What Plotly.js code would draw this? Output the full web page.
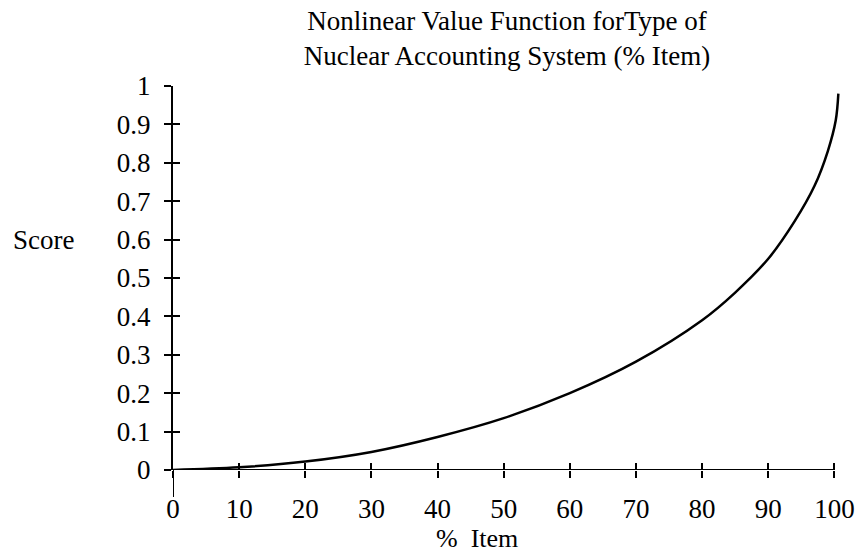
<!DOCTYPE html>
<html>
<head>
<meta charset="utf-8">
<script src="https://cdn.plot.ly/plotly-3.0.1.min.js"></script>
<style>html,body{margin:0;padding:0;background:#fff;}#chart{width:859px;height:554px;}</style>
</head>
<body>
<div id="chart"></div>
<script>
// Data
var itemPct = [0, 10, 20, 30, 40, 50, 60, 70, 80, 85, 90, 94, 97, 99, 100.2, 100.6];
var score   = [0, 0.007, 0.022, 0.047, 0.086, 0.135, 0.2, 0.282, 0.39, 0.462, 0.55, 0.648, 0.74, 0.83, 0.91, 0.98];
var xTicks = [0, 10, 20, 30, 40, 50, 60, 70, 80, 90, 100];
var yTicks = [0, 0.1, 0.2, 0.3, 0.4, 0.5, 0.6, 0.7, 0.8, 0.9, 1];
var yTickText = ['0', '0.1', '0.2', '0.3', '0.4', '0.5', '0.6', '0.7', '0.8', '0.9', '1'];
var titleText = 'Nonlinear Value Function forType of<br>Nuclear Accounting System (% Item)';
var xLabel = '%\u00A0\u00A0Item';
var yLabel = 'Score';

var FONT = 'Liberation Serif, Times New Roman, serif';
var X_MAX = 101;   // a little room so the curve's tip past 100 is not clipped

var traces = [
  {
    x: itemPct, y: score, type: 'scatter', mode: 'lines',
    line: {color: '#000', width: 2.5, shape: 'spline', smoothing: 1},
    cliponaxis: false, showlegend: false, hoverinfo: 'skip'
  },
  {
    x: [null], y: [null], xaxis: 'x2', yaxis: 'y2', type: 'scatter', mode: 'lines',
    showlegend: false, hoverinfo: 'skip'
  }
];

var axBase = {
  showgrid: false, zeroline: false,
  tickfont: {family: FONT, size: 27, color: '#000'},
  tickcolor: '#000', tickwidth: 2, ticklen: 7
};

var plotW = 661 * X_MAX / 100;

var layout = {
  width: 859, height: 554,
  margin: {l: 173, r: 859 - 173 - plotW, t: 86, b: 84},
  paper_bgcolor: '#fff', plot_bgcolor: '#fff',
  font: {family: FONT, color: '#000'},
  title: {
    text: titleText,
    font: {family: FONT, size: 27, color: '#000'},
    xref: 'container', yref: 'container',
    x: 507 / 859, y: 1 - 30 / 554, xanchor: 'center', yanchor: 'middle'
  },
  xaxis: Object.assign({}, axBase, {
    range: [0, X_MAX], tickmode: 'array', tickvals: xTicks,
    ticks: 'outside', showline: false,
    anchor: 'y', ticklabelstandoff: 8
  }),
  yaxis: Object.assign({}, axBase, {
    range: [0, 1], tickmode: 'array', tickvals: yTicks, ticktext: yTickText,
    ticks: 'outside', showline: true, linecolor: '#000', linewidth: 2,
    anchor: 'x', ticklabelstandoff: 8
  }),
  xaxis2: Object.assign({}, axBase, {
    range: [0, X_MAX], tickmode: 'array', tickvals: xTicks,
    ticks: 'inside', showticklabels: false, showline: false,
    overlaying: 'x', anchor: 'y2', side: 'bottom'
  }),
  yaxis2: Object.assign({}, axBase, {
    range: [0, 1], tickmode: 'array', tickvals: yTicks,
    ticks: 'inside', showticklabels: false, showline: false,
    overlaying: 'y', anchor: 'x2', side: 'left'
  }),
  shapes: [
    // x axis line, ending at the 100 tick
    {type: 'line', xref: 'x', yref: 'y', x0: 0, x1: xTicks[xTicks.length - 1], y0: 0, y1: 0,
     line: {color: '#000', width: 2}},
    // y axis line continues a little below the x axis
    {type: 'line', xref: 'x', yref: 'paper', x0: 0, x1: 0, y0: -0.07, y1: 0,
     line: {color: '#000', width: 2}}
  ],
  annotations: [
    {text: yLabel, xref: 'paper', yref: 'y', x: -(173 - 44) / plotW, y: 0.6,
     xanchor: 'center', yanchor: 'middle', showarrow: false,
     font: {family: FONT, size: 27, color: '#000'}},
    {text: xLabel, xref: 'x', yref: 'paper', x: 46, y: -(538 - 470) / 384,
     xanchor: 'center', yanchor: 'middle', showarrow: false,
     font: {family: FONT, size: 26, color: '#000'}}
  ]
};

Plotly.newPlot('chart', traces, layout, {staticPlot: true, displayModeBar: false});
</script>
</body>
</html>
